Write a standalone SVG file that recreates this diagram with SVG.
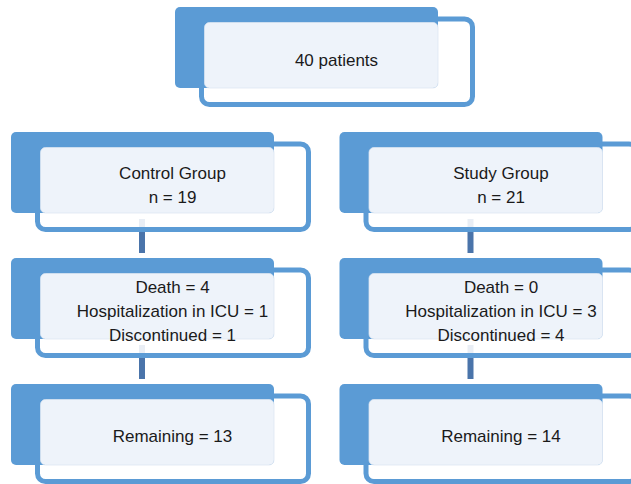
<svg xmlns="http://www.w3.org/2000/svg" width="631" height="484" viewBox="0 0 631 484">
  <style>
    .ol { fill: #ffffff; fill-opacity: 0.88; stroke: #5B9BD5; stroke-width: 5; }
    .bf { fill: #5B9BD5; }
    .lb { fill: #EEF3FA; stroke: #DCE6F2; stroke-width: 0.75; }
    .t { font-family: "Liberation Sans", Arial, sans-serif; font-size: 17px; fill: #1a1a1a; text-anchor: middle; }
    .cn { fill: #4A74AA; }
  </style>
  <rect width="631" height="484" fill="#ffffff"/>
  <g id="connectors">
    <rect class="cn" x="139" y="219" width="6" height="34"/>
    <rect class="cn" x="139" y="345" width="6" height="34"/>
    <rect class="cn" x="467.5" y="219" width="6" height="34"/>
    <rect class="cn" x="467.5" y="345" width="6" height="34"/>
  </g>
  <g id="node-total">
    <rect class="ol" x="201.5" y="19" width="271" height="85.5" rx="8"/>
    <rect class="bf" x="175" y="7" width="263" height="81" rx="5"/>
    <rect class="lb" x="204.5" y="22.5" width="233.5" height="65.5" rx="5"/>
    <text class="t" x="336.5" y="66">40 patients</text>
  </g>
  <g id="node-control">
    <rect class="ol" x="37.5" y="144" width="271" height="85.5" rx="8"/>
    <rect class="bf" x="11" y="132" width="263" height="81" rx="5"/>
    <rect class="lb" x="40.5" y="147.5" width="233.5" height="65.5" rx="5"/>
    <text class="t" x="172.5" y="179">Control Group</text>
    <text class="t" x="172.5" y="203">n = 19</text>
  </g>
  <g id="node-control-events">
    <rect class="ol" x="37.5" y="270" width="271" height="85.5" rx="8"/>
    <rect class="bf" x="11" y="258" width="263" height="81" rx="5"/>
    <rect class="lb" x="40.5" y="273.5" width="233.5" height="65.5" rx="5"/>
    <text class="t" x="172.5" y="293">Death = 4</text>
    <text class="t" x="172.5" y="317">Hospitalization in ICU = 1</text>
    <text class="t" x="172.5" y="341">Discontinued = 1</text>
  </g>
  <g id="node-control-remaining">
    <rect class="ol" x="37.5" y="396" width="271" height="85.5" rx="8"/>
    <rect class="bf" x="11" y="384" width="263" height="81" rx="5"/>
    <rect class="lb" x="40.5" y="399.5" width="233.5" height="65.5" rx="5"/>
    <text class="t" x="172.5" y="442">Remaining = 13</text>
  </g>
  <g id="node-study">
    <rect class="ol" x="366" y="144" width="271" height="85.5" rx="8"/>
    <rect class="bf" x="339.5" y="132" width="263" height="81" rx="5"/>
    <rect class="lb" x="369" y="147.5" width="233.5" height="65.5" rx="5"/>
    <text class="t" x="501" y="179">Study Group</text>
    <text class="t" x="501" y="203">n = 21</text>
  </g>
  <g id="node-study-events">
    <rect class="ol" x="366" y="270" width="271" height="85.5" rx="8"/>
    <rect class="bf" x="339.5" y="258" width="263" height="81" rx="5"/>
    <rect class="lb" x="369" y="273.5" width="233.5" height="65.5" rx="5"/>
    <text class="t" x="501" y="293">Death = 0</text>
    <text class="t" x="501" y="317">Hospitalization in ICU = 3</text>
    <text class="t" x="501" y="341">Discontinued = 4</text>
  </g>
  <g id="node-study-remaining">
    <rect class="ol" x="366" y="396" width="271" height="85.5" rx="8"/>
    <rect class="bf" x="339.5" y="384" width="263" height="81" rx="5"/>
    <rect class="lb" x="369" y="399.5" width="233.5" height="65.5" rx="5"/>
    <text class="t" x="501" y="442">Remaining = 14</text>
  </g>
</svg>
